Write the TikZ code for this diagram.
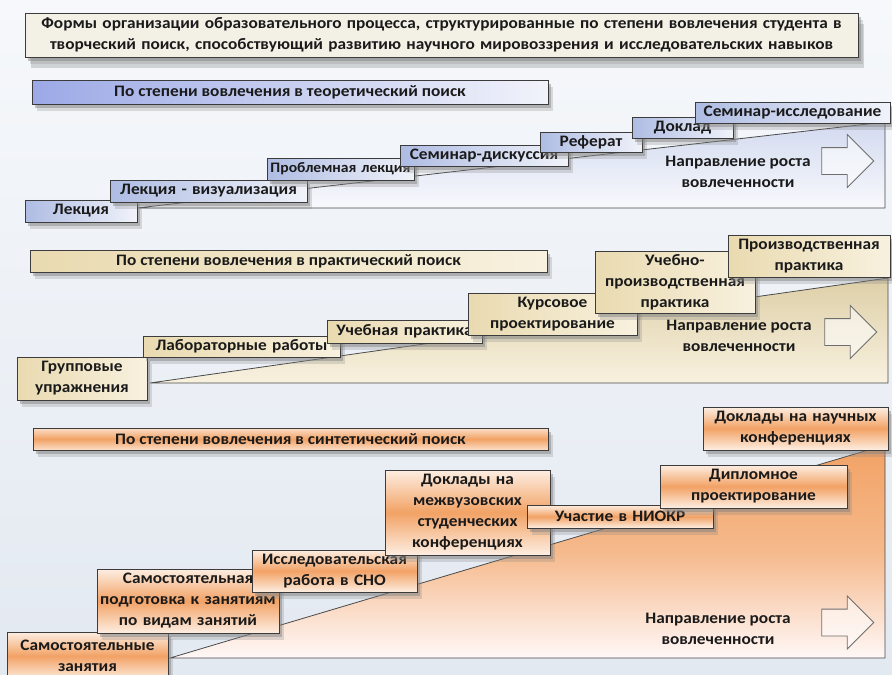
\documentclass[tikz,border=0pt]{standalone}
\usepackage{fontspec}
\setmainfont{Carlito}[FakeStretch=1.08]
\usepackage{tikz}
\usetikzlibrary{shapes, shapes.arrows, arrows.meta, positioning, shadows}

\definecolor{bgTop}{HTML}{F6F8FB}
\definecolor{bgBot}{HTML}{E3E9F1}
\definecolor{boxLine}{HTML}{3C3C3C}
\definecolor{txtDark}{HTML}{1A1A1A}
\definecolor{titleFill}{HTML}{F3F0E6}
\definecolor{thA}{HTML}{AEBCE3}
\definecolor{thB}{HTML}{F1F3FA}
\definecolor{prA}{HTML}{E9DAB0}
\definecolor{prB}{HTML}{F8F1DF}
\definecolor{syA}{HTML}{FDEEE2}
\definecolor{syB}{HTML}{F2A265}
\definecolor{regLine}{HTML}{4A4A4A}

\begin{document}
\begin{tikzpicture}[
        x=1pt, y=-1pt,
        font=\bfseries\fontsize{16}{21}\selectfont,
        % styles
        baseBlock/.style={rectangle, draw=boxLine, line width=0.9pt, align=center, inner xsep=2pt, inner ysep=0pt, text=txtDark,
            drop shadow={opacity=0.25, shadow xshift=5pt, shadow yshift=-7pt},
            drop shadow={opacity=0.45, shadow xshift=3pt, shadow yshift=-4pt}},
        titleBlock/.style={baseBlock, fill=titleFill, drop shadow={opacity=0.3, shadow xshift=6pt, shadow yshift=-11pt}},
        % step styles
        stepTheory/.style={baseBlock, left color=thA, right color=thB},
        stepPractice/.style={baseBlock, left color=prA, right color=prB},
        stepSynth/.style={baseBlock, top color=syA, bottom color=syA, middle color=syB},
        % header styles
        headTheory/.style={baseBlock, left color=thA!90!blue, right color=thB},
        headPractice/.style={baseBlock, left color=prA, right color=prB},
        headSynth/.style={baseBlock, top color=syA!80!syB, bottom color=syA!80!syB, middle color=syB},
        % region styles
        region/.style={draw=regLine, line width=0.8pt},
        regTheory/.style={region, top color=thA!55, bottom color=thB!50},
        regPractice/.style={region, top color=prA!95!black, bottom color=prB},
        regSynth/.style={region, top color=syB, bottom color=pink!12, middle color=syB!75},
        % direction styles
        dirArrow/.style={single arrow, draw=regLine!80, line width=0.9pt, fill=white, fill opacity=0.55, minimum height=52pt, inner xsep=0pt, inner ysep=13pt, single arrow head extend=13pt, single arrow tip angle=90},
        dirLbl/.style={align=center, text=txtDark}
    ]

    % background
    \useasboundingbox (0,0) rectangle (892,675);
    \fill [top color=bgTop, bottom color=bgBot] (0,0) rectangle (892,675);

    % title
    \node [titleBlock, minimum width=833, minimum height=44, text width=825] (title) at (441.5,35)
        {Формы организации образовательного процесса, структурированные по степени вовлечения студента в\\творческий поиск, способствующий развитию научного мировоззрения и исследовательских навыков};

    % section 1: theoretical search
    \draw [regTheory] (137,208) -- (885,208) -- (885,122) -- cycle;
    \node [dirArrow] (arrTheory) at (841,161) {};
    \node [dirLbl, left=7pt of arrTheory, yshift=-11pt] (dirTheory) {Направление роста\\вовлеченности};
    \node [headTheory, minimum width=516, minimum height=24] (headTh) at (290,92) {По степени вовлечения в теоретический поиск};

    \node [stepTheory, text width=108, minimum height=22] (lec) at (81,211) {Лекция};
    \node [stepTheory, text width=193, minimum height=22] (lecViz) at (208.5,191) {Лекция - визуализация};
    \node [stepTheory, text width=143, minimum height=22, font=\bfseries\fontsize{14.5}{20}\selectfont] (probLec) at (340.5,169) {Проблемная лекция};
    \node [stepTheory, text width=164, minimum height=21] (semDisc) at (484,155.5) {Семинар-дискуссия};
    \node [stepTheory, text width=98, minimum height=20] (essay) at (591,142) {Реферат};
    \node [stepTheory, text width=97, minimum height=21] (report) at (682.5,127.5) {Доклад};
    \node [stepTheory, text width=191, minimum height=21] (semRes) at (792.5,112.5) {Семинар-исследование};

    % section 2: practical search
    \draw [regPractice] (150,383) -- (888,383) -- (888,278) -- cycle;
    \node [dirArrow] (arrPractice) at (844,332) {};
    \node [dirLbl, left=9pt of arrPractice, yshift=-4pt] (dirPractice) {Направление роста\\вовлеченности};
    \node [headPractice, minimum width=517, minimum height=22] (headPr) at (288.5,261) {По степени вовлечения в практический поиск};

    \node [stepPractice, text width=126, minimum height=43] (groupEx) at (82,378.5) {Групповые\\упражнения};
    \node [stepPractice, text width=193, minimum height=21] (labWork) at (241.5,346.5) {Лабораторные работы};
    \node [stepPractice, text width=151, minimum height=23] (studyPr) at (404.5,331.5) {Учебная практика};
    \node [stepPractice, text width=165, minimum height=42] (course) at (552.5,314) {Курсовое\\проектирование};
    \node [stepPractice, text width=156, minimum height=62] (studyProd) at (675,282) {Учебно-\\производственная\\практика};
    \node [stepPractice, text width=158, minimum height=42] (prodPr) at (809,256) {Производственная\\практика};

    % section 3: synthetic search
    \draw [regSynth] (170,658) -- (885,658) -- (885,445) -- cycle;
    \node [dirArrow] (arrSynth) at (841,622.5) {};
    \node [dirLbl, left=27pt of arrSynth, yshift=-6pt] (dirSynth) {Направление роста\\вовлеченности};
    \node [headSynth, minimum width=515, minimum height=22] (headSy) at (290.5,439) {По степени вовлечения в синтетический поиск};

    \node [stepSynth, text width=157, minimum height=48] (selfStudy) at (87.5,656) {Самостоятельные\\занятия};
    \node [stepSynth, text width=178, minimum height=64] (selfPrep) at (188,601) {Самостоятельная\\подготовка к занятиям\\по видам занятий};
    \node [stepSynth, text width=161, minimum height=42] (resWork) at (334.5,571) {Исследовательская\\работа в СНО};
    \node [stepSynth, text width=161, minimum height=85] (interConf) at (467.5,512.5) {Доклады на\\межвузовских\\студенческих\\конференциях};
    \node [stepSynth, text width=182, minimum height=23] (rnd) at (620,516.5) {Участие в НИОКР};
    \node [stepSynth, text width=183, minimum height=43] (diploma) at (753.5,486.5) {Дипломное\\проектирование};
    \node [stepSynth, text width=181, minimum height=43] (sciConf) at (795.5,428.5) {Доклады на научных\\конференциях};

\end{tikzpicture}
\end{document}
